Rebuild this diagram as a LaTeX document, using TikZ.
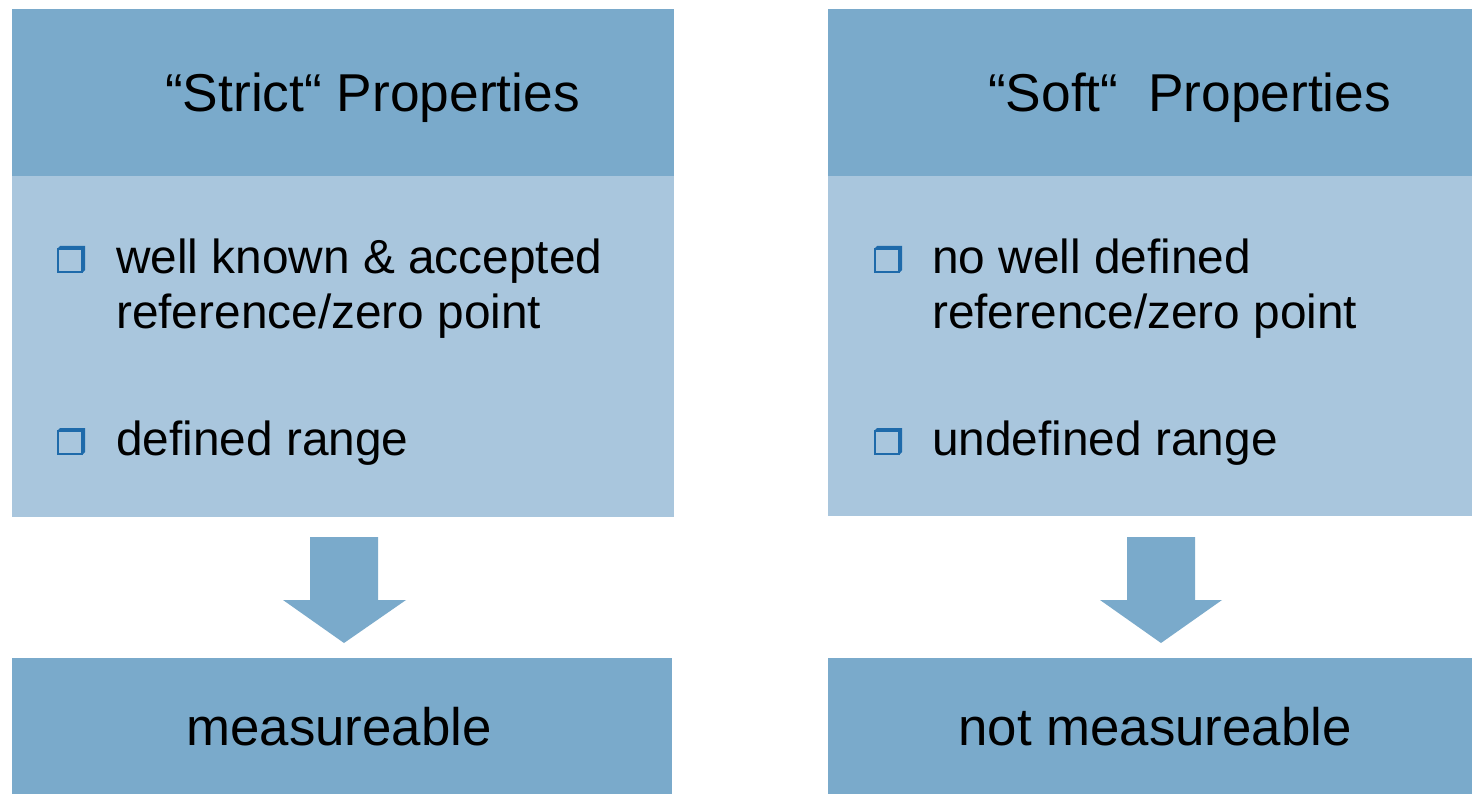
\documentclass[tikz,border=0pt]{standalone}
\usepackage{fontspec}
\setmainfont{Liberation Sans}
\definecolor{headblue}{RGB}{122,170,203}
\definecolor{bodyblue}{RGB}{169,198,221}
\definecolor{bulletblue}{RGB}{30,106,170}
\begin{document}
\begin{tikzpicture}[x=1pt,y=-1pt,
  headtxt/.style={inner sep=0pt,anchor=base west,font=\fontsize{53.3}{63}\selectfont},
  bodytxt/.style={inner sep=0pt,anchor=base west,font=\fontsize{47.8}{56}\selectfont},
  bottxt/.style={inner sep=0pt,anchor=base,font=\fontsize{52.8}{63}\selectfont},
  headbox/.style={fill=headblue,draw=none},
  bodybox/.style={fill=bodyblue,draw=none},
  arrowshape/.style={fill=headblue,draw=none}]
\useasboundingbox (0,0) rectangle (1472,794);
\fill[white] (0,0) rectangle (1472,794);
% boxes
\fill[headbox] (12,9) rectangle (674,176);
\fill[bodybox] (12,176) rectangle (674,517);
\fill[headbox] (828,9) rectangle (1472,176);
\fill[bodybox] (828,176) rectangle (1472,516);
\fill[headbox] (12,658) rectangle (672,794);
\fill[headbox] (828,658) rectangle (1472,794);
% bullets
\newcommand{\mybullet}[2]{%
  \draw[bulletblue,line width=1.6pt] (#1+0.8,#2+3) rectangle (#1+25,#2+26.2);
  \fill[bulletblue] (#1,#2+3) -- (#1+3,#2) -- (#1+28,#2) -- (#1+28,#2+24) -- (#1+25,#2+27) -- (#1+25,#2+3) -- cycle;
}
\mybullet{57}{246}
\mybullet{57}{428}
\mybullet{874}{246}
\mybullet{874}{428}
% header texts
\node[headtxt] (h1) at (165,112) {“Strict“ Properties};
\node[headtxt] (h2) at (988,112) {“Soft“\ \ Properties};
% body texts
\node[bodytxt] (l1a) at (116,273) {well known \& accepted};
\node[bodytxt] (l1b) at (116,328) {reference/zero point};
\node[bodytxt] (l2) at (116,455) {defined range};
\node[bodytxt] (r1a) at (932,273) {no well defined};
\node[bodytxt] (r1b) at (932,328) {reference/zero point};
\node[bodytxt] (r2) at (932,455) {undefined range};
% bottom texts
\node[bottxt] (b1) at (339,745) {measureable};
\node[bottxt] (b2) at (1155,745) {not measureable};
% arrows
\fill[arrowshape] (310,537) -- (378,537) -- (378,600) -- (406,600) -- (344,643) -- (283,600) -- (310,600) -- cycle;
\fill[arrowshape] (1127,537) -- (1195,537) -- (1195,600) -- (1222,600) -- (1161,643) -- (1100,600) -- (1127,600) -- cycle;
\end{tikzpicture}
\end{document}
